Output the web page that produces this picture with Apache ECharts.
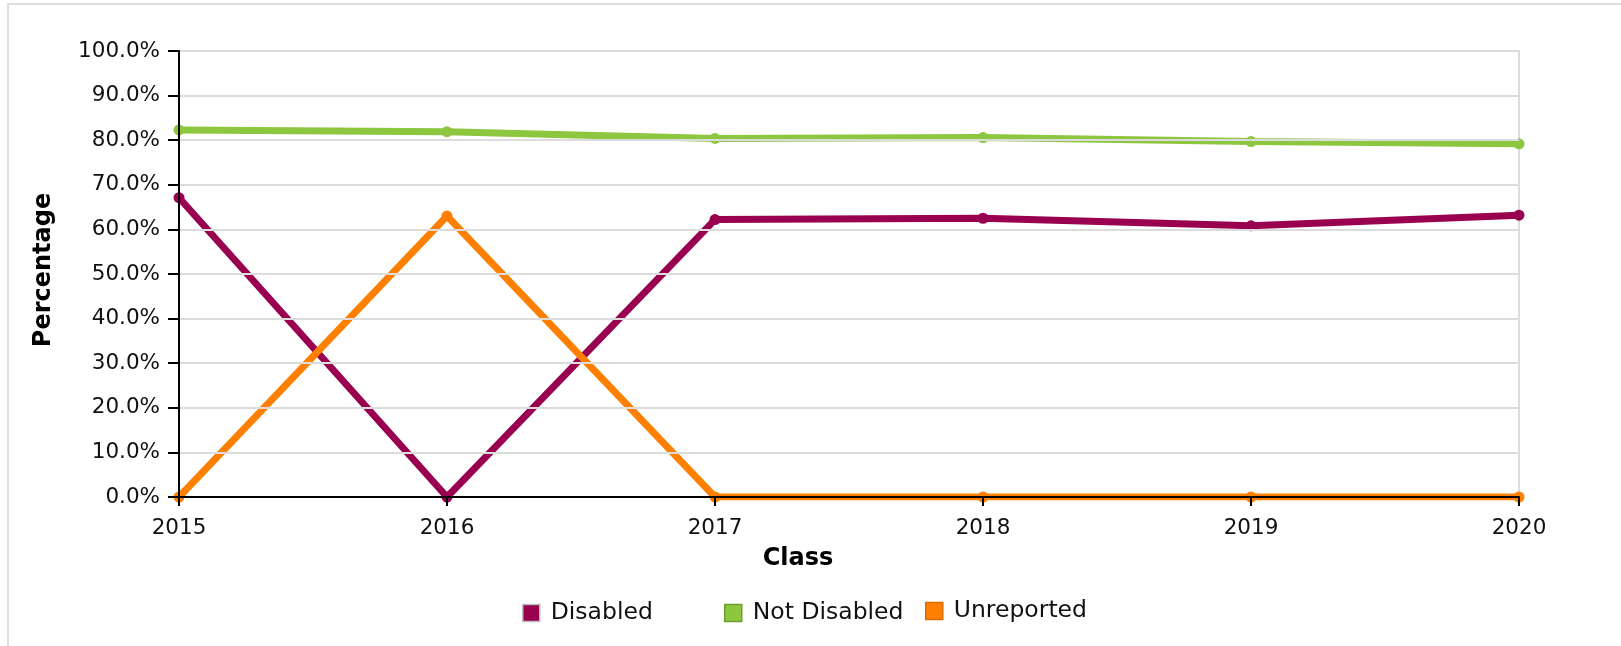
<!DOCTYPE html>
<html>
<head>
<meta charset="utf-8">
<title>Percentage by Class</title>
<script src="https://cdn.jsdelivr.net/npm/echarts@6/dist/echarts.min.js"></script>
<style>
  html, body { margin: 0; padding: 0; background: #ffffff; overflow: hidden; }
  #frame {
    position: absolute; left: 7px; top: 3px; width: 1700px; height: 700px;
    border-top: 2px solid #dedede; border-left: 2px solid #dedede;
  }
  #chart { position: absolute; left: 0; top: 0; width: 1621px; height: 646px; }
</style>
</head>
<body>
<div id="frame"></div>
<div id="chart"></div>
<script>
// Class years along the x axis
const classes = ['2015', '2016', '2017', '2018', '2019', '2020'];

// Share of each group per class, in percent
const disabled    = [67.1, 0, 62.2, 62.5, 60.8, 63.2];
const notDisabled = [82.3, 81.9, 80.4, 80.6, 79.7, 79.2];
const unreported  = [0, 63.0, 0, 0, 0, 0];

// Y axis tick labels
const yTicks = ['0.0%', '10.0%', '20.0%', '30.0%', '40.0%', '50.0%',
                '60.0%', '70.0%', '80.0%', '90.0%', '100.0%'];

const seriesNames = ['Disabled', 'Not Disabled', 'Unreported'];
const seriesColors = ['#990050', '#8dc63f', '#ff8000'];
const legendBorders = ['#bdbdbd', '#6f9f32', '#d96c00'];
const legendLefts = [517, 719, 920];
const legendTops = [596, 596, 594];

const FONT = 'DejaVu Sans';

const chart = echarts.init(document.getElementById('chart'), null, { renderer: 'canvas' });

function lineSeries(name, data, color) {
  return {
    name: name,
    type: 'line',
    data: data,
    symbol: 'circle',
    symbolSize: 11,
    showSymbol: true,
    lineStyle: { width: 7, color: color },
    itemStyle: { color: color },
    emphasis: { disabled: true },
    z: 2
  };
}

const option = {
  backgroundColor: 'transparent',
  animation: false,
  grid: { left: 179, right: 102, top: 51, bottom: 149, containLabel: false },
  xAxis: {
    type: 'category',
    data: classes,
    boundaryGap: false,
    z: 5,
    axisLine: { show: true, lineStyle: { color: '#000', width: 2 } },
    axisTick: { show: true, alignWithLabel: true, length: 9, lineStyle: { color: '#000', width: 2 } },
    axisLabel: { color: '#111', fontFamily: FONT, fontSize: 21.5, margin: 20 },
    splitLine: { show: false }
  },
  yAxis: [{
    type: 'value',
    min: 0,
    max: 100,
    interval: 10,
    z: 5,
    axisLine: { show: true, lineStyle: { color: '#000', width: 2 } },
    axisTick: { show: true, length: 11, lineStyle: { color: '#000', width: 2 } },
    axisLabel: {
      color: '#111', fontFamily: FONT, fontSize: 21.5, margin: 19,
      formatter: function (v) { return yTicks[Math.round(v / 10)]; }
    },
    splitLine: { show: true, lineStyle: { color: '#dcdcdc', width: 2 } }
  }, {
    // right-hand border of the plot area
    type: 'value',
    position: 'right',
    min: 0,
    max: 100,
    interval: 10,
    axisLine: { show: true, lineStyle: { color: '#dcdcdc', width: 2 } },
    axisTick: { show: false },
    axisLabel: { show: false },
    splitLine: { show: false }
  }],
  legend: seriesNames.map(function (name, i) {
    return {
      left: legendLefts[i],
      top: legendTops[i],
      itemWidth: 17,
      itemHeight: 17,
      itemGap: 0,
      selectedMode: false,
      icon: 'rect',
      textStyle: { color: '#111', fontFamily: FONT, fontSize: 23.5, padding: [0, 0, 0, 6] },
      data: [{
        name: name,
        icon: 'rect',
        itemStyle: { color: seriesColors[i], borderColor: legendBorders[i], borderWidth: 1.5 }
      }]
    };
  }),
  graphic: [{
    type: 'text',
    x: 798,
    y: 559,
    style: {
      text: 'Class',
      fill: '#000',
      font: 'bold 24px "DejaVu Sans"',
      textAlign: 'center',
      textVerticalAlign: 'middle'
    }
  }, {
    type: 'text',
    x: 44,
    y: 270,
    rotation: Math.PI / 2,
    style: {
      text: 'Percentage',
      fill: '#000',
      font: 'bold 24px "DejaVu Sans"',
      textAlign: 'center',
      textVerticalAlign: 'middle'
    }
  }],
  series: [
    lineSeries(seriesNames[0], disabled, seriesColors[0]),
    lineSeries(seriesNames[1], notDisabled, seriesColors[1]),
    lineSeries(seriesNames[2], unreported, seriesColors[2])
  ]
};

chart.setOption(option);
</script>
</body>
</html>
